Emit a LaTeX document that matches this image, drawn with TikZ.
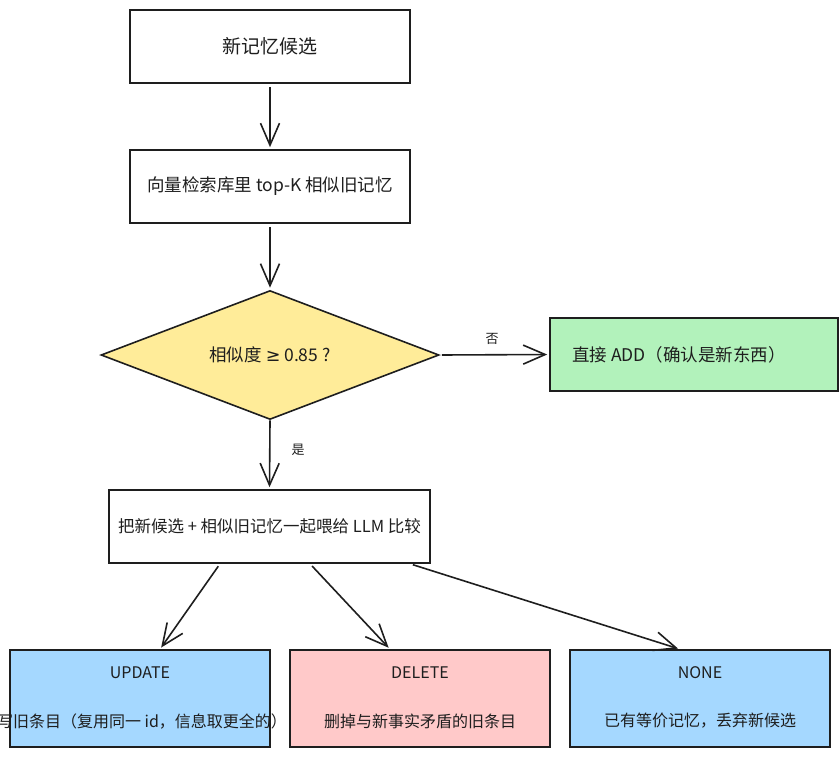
\documentclass[tikz,border=0pt]{standalone}
\usepackage{fontspec}
\setmainfont{Noto Sans CJK SC}
\newfontfamily\symfont{DejaVu Sans}
\usetikzlibrary{shapes.geometric,arrows.meta}
\definecolor{ink}{HTML}{1E1E1E}
\definecolor{yel}{HTML}{FFEC99}
\definecolor{grn}{HTML}{B2F2BB}
\definecolor{blu}{HTML}{A5D8FF}
\definecolor{pnk}{HTML}{FFC9C9}
\tikzset{
  box/.style={draw=ink, line width=1.6pt, fill=white, minimum width=280pt, minimum height=73pt, inner sep=0pt, text=ink},
  dec/.style={draw=ink, line width=1.6pt, fill=yel, shape=diamond, aspect=2.6, minimum width=338pt, minimum height=129pt, inner sep=0pt, text=ink},
  res/.style={draw=ink, line width=1.6pt, minimum width=260pt, minimum height=97pt, inner sep=0pt},
  txt/.style={text=ink, inner sep=0pt, font=\fontsize{16pt}{19pt}\selectfont},
  lab/.style={text=ink, inner sep=0pt, font=\fontsize{13pt}{15pt}\selectfont},
  arr/.style={draw=ink, line width=1.6pt, -{Straight Barb[length=22pt,width=19pt,line width=1.6pt]}},
}
\begin{document}
\begin{tikzpicture}[x=1pt,y=-1pt]
\useasboundingbox (0,0) rectangle (840,758);
\node[box, font=\fontsize{19pt}{22pt}\selectfont] (cand) at (270,46.5) {新记忆候选};
\node[box, font=\fontsize{17.5pt}{20pt}\selectfont] (search) at (270,186.5) {向量检索库里 top-K 相似旧记忆};
\node[dec, font=\fontsize{17.5pt}{20pt}\selectfont] (sim) at (270,355) {相似度 {\symfont ≥} 0.85 ?};
\node[box, fill=grn, minimum width=288pt] (add) at (694,354.5) {};
\node[text=ink, inner sep=0pt, font=\fontsize{17.5pt}{20pt}\selectfont] (addt) at (679,354.5) {直接 ADD（确认是新东西）};
\node[box, minimum width=321pt, font=\fontsize{16.5pt}{19pt}\selectfont] (llm) at (269.5,526.5) {把新候选 + 相似旧记忆一起喂给 LLM 比较};
\node[res, fill=blu] (upd) at (140,698.5) {};
\node[res, fill=pnk] (del) at (420,698.5) {};
\node[res, fill=blu] (none) at (700,698.5) {};
\node[txt] (updt) at (140,673) {UPDATE};
\node[txt] (updd) at (134,721) {改写旧条目（复用同一 id，信息取更全的）};
\node[txt] (delt) at (420,673) {DELETE};
\node[txt] (deld) at (420,721) {删掉与新事实矛盾的旧条目};
\node[txt] (nonet) at (700,673) {NONE};
\node[txt] (noned) at (700,721) {已有等价记忆，丢弃新候选};
\draw[arr, shorten <=3pt, shorten >=2pt] (cand) -- (search);
\draw[arr, shorten <=3pt, shorten >=2pt] (search) -- (sim);
\draw[arr, shorten >=2pt] (sim.south) -- (llm.north);
\draw[arr, shorten <=2pt, shorten >=2pt] (sim.east) -- (add.west);
\node[lab] (no) at (492,339) {否};
\node[lab] (yes) at (298,450) {是};
\draw[arr, shorten <=3pt, shorten >=2pt] ([xshift=-49.5pt]llm.south) -- ([xshift=20pt]upd.north);
\draw[arr, shorten <=3pt, shorten >=2pt] ([xshift=40.5pt]llm.south) -- ([xshift=-30pt]del.north);
\draw[arr, shorten <=3pt, shorten >=2pt] ([xshift=140.5pt]llm.south) -- ([xshift=-20pt]none.north);
\end{tikzpicture}
\end{document}
